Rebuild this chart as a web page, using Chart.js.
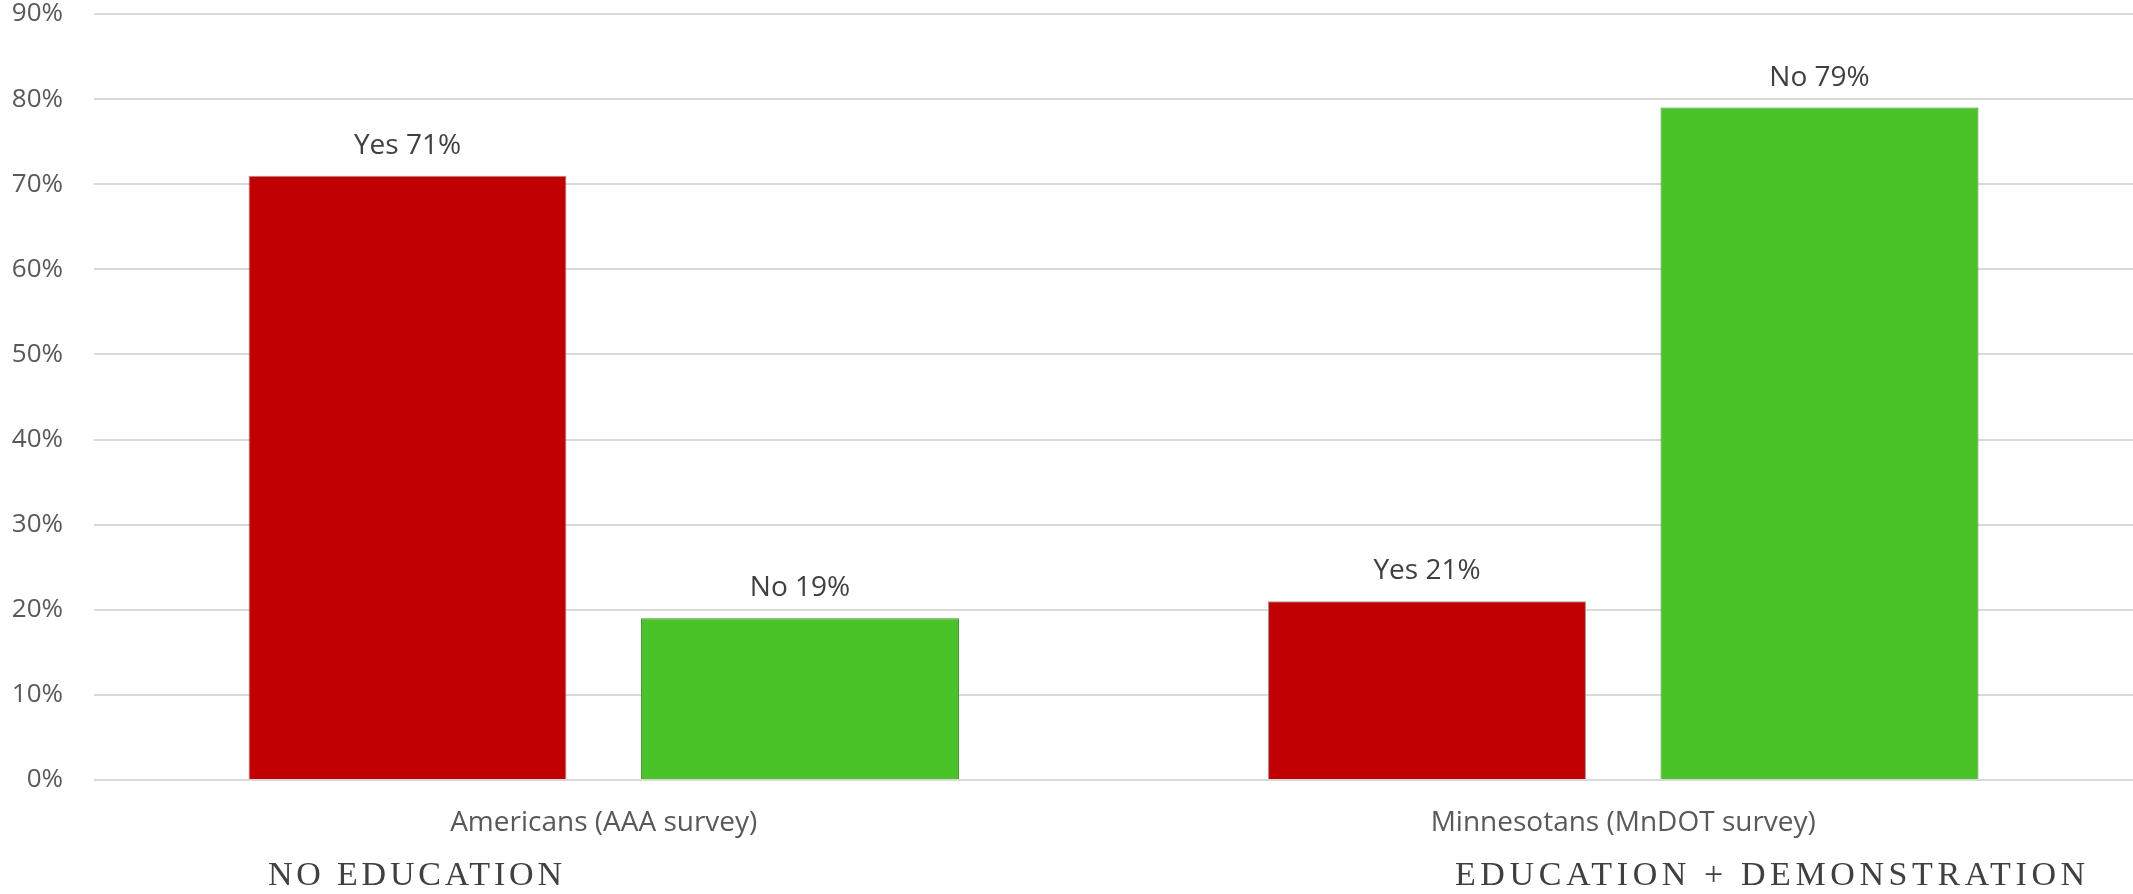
<!DOCTYPE html>
<html>
<head>
<meta charset="utf-8">
<script src="https://cdn.jsdelivr.net/npm/chart.js@4"></script>
<style>
  html, body { margin: 0; padding: 0; background: #fff; overflow: hidden; }
  #wrap { position: relative; width: 2133px; height: 894px; }
  canvas { display: block; }
  .note {
    position: absolute;
    font-family: "Liberation Serif", "DejaVu Serif", serif;
    font-size: 34px;
    color: #404040;
    letter-spacing: 3.5px;
    white-space: nowrap;
    line-height: 1;
  }
</style>
</head>
<body>
<div id="wrap">
  <canvas id="myChart" width="2133" height="894"></canvas>
  <div class="note" style="left:268px; top:857px; letter-spacing:3.8px;">NO EDUCATION</div>
  <div class="note" style="left:1455px; top:857px; letter-spacing:4.6px;">EDUCATION + DEMONSTRATION</div>
</div>
<script>
const ctx = document.getElementById('myChart');

const categories = ['Americans (AAA survey)', 'Minnesotans (MnDOT survey)'];
const yesValues = [71, 21];
const noValues = [19, 79];
const yTicks = [0, 10, 20, 30, 40, 50, 60, 70, 80, 90];

// draws "Yes 71%" style labels above each bar
const barLabels = {
  id: 'barLabels',
  afterDatasetsDraw(chart) {
    const c = chart.ctx;
    c.save();
    c.font = '28px "Open Sans"';
    c.fillStyle = '#404040';
    c.textAlign = 'center';
    c.textBaseline = 'bottom';
    chart.data.datasets.forEach((ds, i) => {
      chart.getDatasetMeta(i).data.forEach((bar, j) => {
        c.fillText(ds.label + ' ' + ds.data[j] + '%', bar.x, bar.y - 16);
      });
    });
    c.restore();
  }
};

new Chart(ctx, {
  type: 'bar',
  data: {
    labels: categories,
    datasets: [{
      label: 'Yes',
      data: yesValues,
      backgroundColor: '#C00000',
      borderColor: '#a09090',
      borderWidth: 1
    }, {
      label: 'No',
      data: noValues,
      backgroundColor: '#4AC328',
      borderColor: '#3f8a2c',
      borderWidth: 1
    }]
  },
  options: {
    responsive: false,
    animation: false,
    categoryPercentage: 0.77,
    barPercentage: 0.81,
    layout: {
      padding: { left: 0, right: 0, top: 14, bottom: 44 }
    },
    scales: {
      x: {
        grid: { display: false, drawTicks: false },
        border: { display: false },
        afterFit: (axis) => {
          axis.height = 70;
          axis.paddingLeft = 0;
          axis.paddingRight = 0;
        },
        ticks: {
          padding: 26,
          color: '#595959',
          font: { family: 'Open Sans', size: 28 }
        }
      },
      y: {
        min: 0,
        max: 90,
        afterBuildTicks: (axis) => {
          axis.ticks = yTicks.map(v => ({ value: v }));
        },
        afterFit: (axis) => {
          axis.width = 94;
          axis.paddingTop = 0;
          axis.paddingBottom = 0;
        },
        grid: { color: '#D9D9D9', lineWidth: 2, drawTicks: false },
        border: { display: false },
        ticks: {
          padding: 31,
          color: '#595959',
          font: { family: 'Open Sans', size: 26 },
          callback: (value) => value + '%'
        }
      }
    },
    plugins: {
      legend: { display: false },
      tooltip: { enabled: false }
    }
  },
  plugins: [barLabels]
});
</script>
</body>
</html>
